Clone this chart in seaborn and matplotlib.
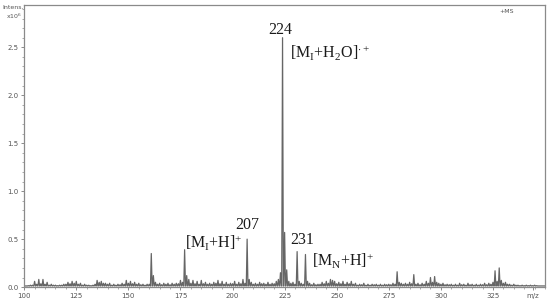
import numpy as np
import pandas as pd
import seaborn as sns
import matplotlib.pyplot as plt
from matplotlib.ticker import MultipleLocator

# main peak positions (m/z) and intensities (x10^6)
mz = [103, 105, 107, 109, 111, 113, 115, 117, 119, 121, 123, 125, 127, 129,
      131, 133, 135, 136, 137, 139, 141, 143, 145, 147, 149, 151, 153, 155,
      157, 159, 161, 162, 163, 165, 167, 169, 171, 173, 175, 177, 178, 179,
      181, 183, 185, 187, 189, 191, 193, 195, 197, 199, 201, 203, 205, 207,
      208, 209, 211, 213, 215, 217, 219, 221, 222, 223, 224, 225, 226, 227,
      229, 231, 232, 233, 235, 236, 237, 239, 241, 243, 245, 247, 248, 249,
      251, 253, 255, 257, 259, 261, 263, 265, 267, 269, 271, 273, 275, 277,
      279, 280, 281, 283, 285, 287, 289, 291, 293, 295, 297, 298, 299, 301,
      303, 305, 307, 309, 311, 313, 315, 317, 319, 321, 323, 325, 326, 328,
      329, 331, 333, 335, 337, 339, 341, 343, 345]
intens = [0.02, 0.06, 0.08, 0.08, 0.05, 0.03, 0.02, 0.02, 0.03, 0.05, 0.06,
          0.06, 0.04, 0.03, 0.02, 0.02, 0.07, 0.05, 0.06, 0.04, 0.04, 0.03,
          0.03, 0.04, 0.07, 0.06, 0.05, 0.04, 0.03, 0.03, 0.35, 0.12, 0.05,
          0.04, 0.04, 0.04, 0.04, 0.04, 0.07, 0.39, 0.12, 0.08, 0.07, 0.06,
          0.07, 0.05, 0.04, 0.05, 0.07, 0.06, 0.05, 0.04, 0.06, 0.05, 0.08,
          0.50, 0.08, 0.05, 0.04, 0.05, 0.04, 0.05, 0.04, 0.06, 0.08, 0.15,
          2.60, 0.57, 0.18, 0.06, 0.05, 0.37, 0.06, 0.04, 0.34, 0.06, 0.04,
          0.04, 0.03, 0.05, 0.06, 0.08, 0.07, 0.06, 0.05, 0.06, 0.05, 0.06,
          0.04, 0.03, 0.04, 0.03, 0.03, 0.03, 0.03, 0.03, 0.03, 0.04, 0.16,
          0.05, 0.04, 0.04, 0.05, 0.13, 0.04, 0.04, 0.06, 0.10, 0.11, 0.05,
          0.04, 0.04, 0.03, 0.03, 0.03, 0.04, 0.03, 0.04, 0.03, 0.03, 0.03,
          0.04, 0.04, 0.05, 0.17, 0.20, 0.07, 0.05, 0.03, 0.03, 0.02, 0.02,
          0.02, 0.02, 0.02]

# small background peaks in between
minor_mz = [102, 104, 106, 108, 110, 112, 114, 116, 118, 120, 122, 124, 126,
            128, 130, 132, 134, 138, 140, 142, 144, 146, 148, 150, 152, 154,
            156, 158, 160, 164, 166, 168, 170, 172, 174, 176, 180, 182, 184,
            186, 188, 190, 192, 194, 196, 198, 200, 202, 204, 206, 210, 212,
            214, 216, 218, 220, 228, 230, 234, 238, 240, 242, 244, 246, 250,
            252, 254, 256, 258, 260, 262, 264, 266, 268, 270, 272, 274, 276,
            278, 282, 284, 286, 288, 290, 292, 294, 296, 300, 302, 304, 306,
            308, 310, 312, 314, 316, 318, 320, 322, 324, 327, 330, 332, 334,
            336, 338, 340, 342, 344, 346]
minor_intens = [0.015, 0.02, 0.03, 0.035, 0.03, 0.02, 0.02, 0.015, 0.02, 0.03,
                0.035, 0.04, 0.03, 0.02, 0.02, 0.015, 0.03, 0.04, 0.03, 0.02,
                0.02, 0.025, 0.03, 0.04, 0.035, 0.03, 0.025, 0.02, 0.03, 0.03,
                0.025, 0.03, 0.025, 0.03, 0.035, 0.05, 0.04, 0.035, 0.03,
                0.035, 0.03, 0.03, 0.04, 0.035, 0.03, 0.03, 0.035, 0.03,
                0.035, 0.04, 0.03, 0.03, 0.035, 0.03, 0.03, 0.035, 0.04, 0.03,
                0.03, 0.025, 0.025, 0.03, 0.035, 0.04, 0.035, 0.035, 0.03,
                0.035, 0.03, 0.02, 0.025, 0.02, 0.02, 0.025, 0.02, 0.02,
                0.025, 0.025, 0.03, 0.03, 0.03, 0.035, 0.03, 0.025, 0.03,
                0.04, 0.05, 0.03, 0.025, 0.025, 0.02, 0.02, 0.025, 0.02,
                0.025, 0.02, 0.02, 0.025, 0.025, 0.03, 0.06, 0.04, 0.03,
                0.02, 0.02, 0.015, 0.015, 0.015, 0.015, 0.015]

baseline = 0.012
half_width = 0.4

peaks = sorted(zip(mz + minor_mz, intens + minor_intens))

# profile trace: each peak rises from the baseline and falls back
xs, ys = [100.0], [baseline]
for m, h in peaks:
    xs += [m - half_width, m, m + half_width]
    ys += [baseline, h, baseline]
xs.append(350.0)
ys.append(baseline)
df = pd.DataFrame({"mz": xs, "intensity": ys})

sns.set_style("ticks")
fig = plt.figure(figsize=(5.5, 3), dpi=100)
ax = fig.add_axes([0.044, 0.043, 0.947, 0.94])

sns.lineplot(data=df, x="mz", y="intensity", sort=False, estimator=None,
             color="#666666", linewidth=0.9, ax=ax)

ax.set_xlim(100, 350)
ax.set_ylim(0, 2.94)
ax.set_xlabel("")
ax.set_ylabel("")

ax.xaxis.set_minor_locator(MultipleLocator(5))
ax.yaxis.set_major_locator(MultipleLocator(0.5))
ax.yaxis.set_minor_locator(MultipleLocator(0.1))
ax.set_xticks([100, 125, 150, 175, 200, 225, 250, 275, 300, 325, 344])
ax.set_xticklabels(["100", "125", "150", "175", "200", "225", "250", "275",
                    "300", "325", "m/z"])
ax.tick_params(axis="both", which="major", labelsize=5, length=2.5,
               width=0.6, color="#777777", labelcolor="#555555", pad=1.5)
ax.tick_params(axis="both", which="minor", length=1.5, width=0.5,
               color="#888888")
ax.set_yticklabels([f"{v:.1f}" for v in ax.get_yticks()])

for side in ["left", "bottom", "top", "right"]:
    ax.spines[side].set_color("#8a8a8a")
    ax.spines[side].set_linewidth(0.9)

fig.text(0.005, 0.975, "Intens.", fontsize=4.5, color="#555555", va="center")
fig.text(0.01, 0.945, "x10$^6$", fontsize=4.5, color="#555555", va="center")
ax.text(328, 2.87, "+MS", fontsize=4.5, color="#555555", va="center")

plt.rcParams["mathtext.fontset"] = "custom"
plt.rcParams["mathtext.rm"] = "Liberation Serif"
plt.rcParams["mathtext.it"] = "Liberation Serif:italic"
serif = dict(family="Liberation Serif", fontsize=11.5, color="#1a1a1a")

ax.text(223, 2.68, "224", ha="center", va="center", **serif)
ax.text(227.5, 2.45, r"[M$_\mathrm{I}$+H$_\mathrm{2}$O]$^{\cdot+}$",
        ha="left", va="center", **serif)
ax.text(207, 0.65, "207", ha="center", va="center", **serif)
ax.text(177.3, 0.46, r"[M$_\mathrm{I}$+H]$^{+}$", ha="left", va="center",
        **serif)
ax.text(233.4, 0.49, "231", ha="center", va="center", **serif)
ax.text(238.2, 0.28, r"[M$_\mathrm{N}$+H]$^{+}$", ha="left", va="center",
        **serif)

fig.savefig("out.png", dpi=100)
